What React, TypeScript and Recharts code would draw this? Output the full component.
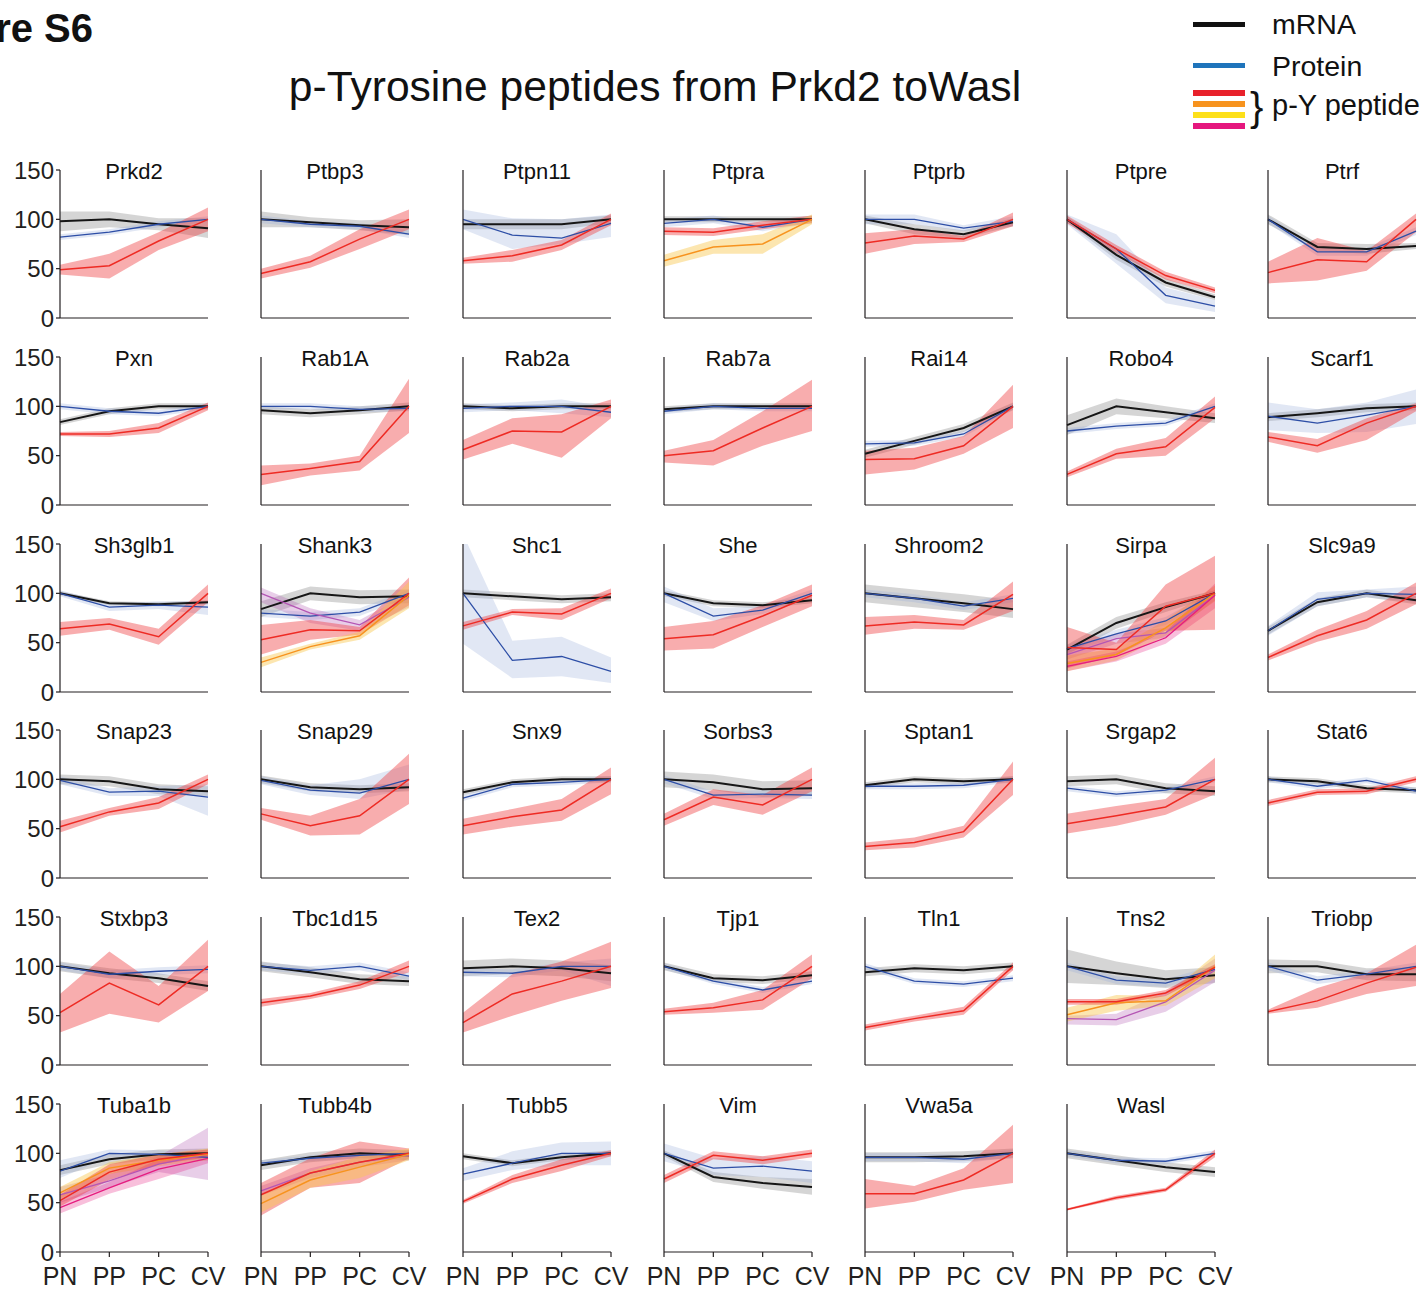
import React from 'react';
import { ComposedChart, Line, Area, XAxis, YAxis } from 'recharts';

// err per point: number = symmetric half width, [down, up] = asymmetric band
type Err = number | (number | [number, number])[];
type Series = [string, number[], Err];

const STAGES = ['PN', 'PP', 'PC', 'CV'];
const Y_TICKS = [0, 50, 100, 150];

// m = mRNA, p = protein, r/o/v/k = p-Y peptides (red, orange, purple, pink)
const prkd2: Series[] = [
  ['m', [98, 100, 95, 91], [10, 8, 6, 10]],
  ['p', [82, 87, 95, 100], 3],
  ['r', [49, 53, 78, 100], [5, [13, 12], 9, 12]],
];
const ptbp3: Series[] = [
  ['m', [100, 97, 94, 92], [8, 5, 5, 8]],
  ['p', [100, 95, 93, 85], [4, 3, 3, 4]],
  ['r', [45, 57, 80, 100], [5, 6, 10, 10]],
];
const ptpn11: Series[] = [
  ['m', [95, 95, 95, 100], [5, 5, 5, 4]],
  ['p', [100, 84, 81, 96], [10, [14, 17], [6, 19], [14, 9]]],
  ['r', [58, 63, 74, 100], [3, 6, 5, 6]],
];
const ptpra: Series[] = [
  ['m', [100, 100, 100, 100], 3],
  ['p', [96, 100, 92, 100], 4],
  ['r', [88, 87, 94, 100], 4],
  ['o', [58, 72, 75, 100], [6, 7, 10, 5]],
];
const ptprb: Series[] = [
  ['m', [100, 90, 85, 97], [4, 5, 4, 4]],
  ['p', [100, 100, 91, 98], [5, 5, 3, 5]],
  ['r', [76, 83, 80, 100], [[11, 10], [8, 7], 3, 7]],
];
const ptpre: Series[] = [
  ['m', [100, 64, 36, 21], [3, 5, 4, 3]],
  ['p', [100, 70, 23, 12], [5, 15, 8, 6]],
  ['r', [100, 70, 43, 28], [4, 4, 4, 3]],
];
const ptrf: Series[] = [
  ['m', [100, 72, 70, 73], [5, 4, 5, 3]],
  ['p', [100, 67, 67, 88], 4],
  ['r', [46, 59, 57, 100], [11, [21, 22], [9, 11], [13, 6]]],
];
const pxn: Series[] = [
  ['m', [84, 95, 100, 100], 3],
  ['p', [100, 95, 93, 100], 3],
  ['r', [72, 72, 78, 100], [2, 3, 5, 4]],
];
const rab1a: Series[] = [
  ['m', [96, 93, 96, 100], 4],
  ['p', [100, 100, 97, 98], 3],
  ['r', [31, 37, 44, 100], [[11, 9], [7, 5], [9, 6], [27, 28]]],
];
const rab2a: Series[] = [
  ['m', [100, 98, 100, 100], 3],
  ['p', [98, 100, 100, 94], [4, 4, 7, 5]],
  ['r', [56, 75, 74, 100], [10, 13, [26, 18], [12, 7]]],
];
const rab7a: Series[] = [
  ['m', [97, 100, 100, 100], 3],
  ['p', [95, 100, 98, 98], 3],
  ['r', [50, 55, 78, 100], [[7, 5], [15, 11], [18, 17], [25, 27]]],
];
const rai14: Series[] = [
  ['m', [52, 65, 78, 100], 4],
  ['p', [62, 63, 72, 100], 3],
  ['r', [46, 47, 60, 100], [[15, 9], 11, [8, 10], 22]],
];
const robo4: Series[] = [
  ['m', [81, 100, 94, 88], [10, 8, 6, 5]],
  ['p', [75, 80, 83, 100], 3],
  ['r', [31, 52, 59, 99], [3, 5, 9, 11]],
];
const scarf1: Series[] = [
  ['m', [89, 93, 98, 100], 4],
  ['p', [90, 83, 91, 100], [14, [10, 14], [17, 13], [18, 17]]],
  ['r', [69, 60, 83, 100], [5, 7, [17, 5], [5, 3]]],
];
const sh3glb1: Series[] = [
  ['m', [100, 90, 89, 91], 2],
  ['p', [100, 86, 88, 86], [3, 4, 4, [8, 6]]],
  ['r', [64, 69, 56, 100], [7, 6, 8, 9]],
];
const shank3: Series[] = [
  ['m', [84, 100, 96, 97], [8, 7, 7, 7]],
  ['p', [80, 77, 81, 100], 4],
  ['v', [100, 80, 68, 96], [[9, 6], [10, 5], [6, 5], [10, 4]]],
  ['r', [53, 63, 62, 100], [15, 10, 4, [12, 16]]],
  ['o', [30, 46, 57, 98], [5, 3, 4, [13, 14]]],
];
const shc1: Series[] = [
  ['m', [100, 97, 94, 96], 4],
  ['p', [100, 32, 36, 21], [[51, 60], [18, 20], 20, [12, 14]]],
  ['r', [67, 81, 79, 100], [4, 3, 6, 5]],
];
const she: Series[] = [
  ['m', [100, 90, 88, 93], 3],
  ['p', [100, 77, 83, 100], [[9, 7], [5, 8], 4, 4]],
  ['r', [54, 58, 77, 98], [12, 14, 11, 11]],
];
const shroom2: Series[] = [
  ['m', [100, 95, 90, 84], 9],
  ['p', [100, 95, 87, 95], 4],
  ['r', [67, 71, 68, 99], [9, 7, 5, [17, 13]]],
];
const sirpa: Series[] = [
  ['m', [43, 70, 86, 100], [5, 6, 5, 3]],
  ['p', [44, 59, 72, 100], 4],
  ['v', [38, 54, 60, 98], 5],
  ['o', [29, 38, 65, 100], [8, 6, 8, 8]],
  ['k', [26, 36, 55, 98], [5, 5, 6, [13, 12]]],
  ['r', [45, 43, 87, 100], [21, [6, 7], [25, 22], [37, 38]]],
];
const slc9a9: Series[] = [
  ['m', [62, 91, 100, 93], 4],
  ['p', [62, 94, 100, 99], [5, 7, 4, 8]],
  ['r', [35, 57, 73, 100], [3, 6, 9, 11]],
];
const snap23: Series[] = [
  ['m', [100, 98, 90, 88], 5],
  ['p', [99, 87, 88, 82], [4, 4, 5, [19, 13]]],
  ['r', [52, 67, 76, 100], [6, 4, 6, 5]],
];
const snap29: Series[] = [
  ['m', [100, 92, 90, 92], 4],
  ['p', [99, 89, 86, 100], [4, 5, [6, 14], [10, 15]]],
  ['r', [65, 53, 63, 100], [6, 10, [19, 17], [25, 26]]],
];
const snx9: Series[] = [
  ['m', [87, 97, 100, 100], 3],
  ['p', [81, 95, 97, 100], 3],
  ['r', [53, 62, 69, 100], [[9, 7], [10, 8], 11, [15, 12]]],
];
const sorbs3: Series[] = [
  ['m', [100, 97, 90, 91], 8],
  ['p', [100, 84, 85, 84], 4],
  ['r', [59, 82, 74, 100], [6, 8, 10, 12]],
];
const sptan1: Series[] = [
  ['m', [94, 100, 98, 100], 3],
  ['p', [93, 93, 94, 100], 3],
  ['r', [32, 36, 47, 100], [4, 5, 6, [16, 18]]],
];
const srgap2: Series[] = [
  ['m', [98, 100, 91, 88], 5],
  ['p', [91, 85, 89, 100], 3],
  ['r', [55, 63, 72, 100], [10, 10, 8, [15, 22]]],
];
const stat6: Series[] = [
  ['m', [100, 98, 91, 89], 3],
  ['p', [100, 93, 99, 88], 3],
  ['r', [76, 87, 88, 100], 3],
];
const stxbp3: Series[] = [
  ['m', [100, 93, 88, 80], 5],
  ['p', [100, 92, 95, 97], 4],
  ['r', [53, 83, 61, 100], [[20, 19], [31, 32], [18, 19], [25, 27]]],
];
const tbc1d15: Series[] = [
  ['m', [100, 94, 87, 85], 5],
  ['p', [100, 96, 100, 90], 4],
  ['r', [63, 70, 81, 100], [4, 3, 4, 6]],
];
const tex2: Series[] = [
  ['m', [98, 100, 98, 93], 8],
  ['p', [94, 93, 100, 100], [4, 4, 4, [20, 8]]],
  ['r', [43, 72, 85, 100], [10, [22, 20], 20, [22, 25]]],
];
const tjp1: Series[] = [
  ['m', [100, 88, 86, 91], 4],
  ['p', [100, 85, 76, 85], 3],
  ['r', [54, 58, 66, 100], [3, 5, 10, 12]],
];
const tln1: Series[] = [
  ['m', [94, 98, 96, 100], 4],
  ['p', [100, 85, 82, 88], 3],
  ['r', [38, 47, 55, 100], [3, 3, 4, 4]],
];
const tns2: Series[] = [
  ['m', [100, 93, 87, 91], [17, 12, 9, 8]],
  ['p', [100, 86, 83, 97], 4],
  ['v', [47, 46, 64, 96], [[6, 3], 6, 10, 12]],
  ['o', [51, 63, 65, 100], [7, 8, 5, 12]],
  ['r', [64, 64, 73, 99], 3],
];
const triobp: Series[] = [
  ['m', [100, 100, 92, 92], [7, 6, 6, 7]],
  ['p', [100, 86, 92, 100], 4],
  ['r', [54, 65, 83, 99], [2, [7, 13], [11, 10], [19, 23]]],
];
const tuba1b: Series[] = [
  ['m', [83, 94, 99, 100], 5],
  ['p', [82, 100, 99, 96], [[7, 11], 4, 4, 4]],
  ['v', [58, 72, 89, 99], [8, 7, 8, [26, 27]]],
  ['o', [60, 85, 93, 99], 6],
  ['k', [45, 65, 84, 95], [6, 6, 10, 5]],
  ['r', [52, 81, 94, 100], [6, 8, 5, 4]],
];
const tubb4b: Series[] = [
  ['m', [88, 96, 100, 98], 5],
  ['p', [90, 95, 98, 100], 3],
  ['v', [62, 80, 91, 98], 5],
  ['r', [58, 80, 91, 100], [[21, 12], 15, 21, 5]],
  ['o', [49, 73, 86, 99], [9, [8, 9], 11, 6]],
];
const tubb5: Series[] = [
  ['m', [97, 90, 96, 100], 3],
  ['p', [79, 90, 100, 100], [[7, 6], [7, 12], [12, 11], 12]],
  ['r', [51, 74, 88, 100], [2, 4, 6, 3]],
];
const vim: Series[] = [
  ['m', [100, 76, 70, 66], [3, 5, 6, 8]],
  ['p', [100, 85, 87, 82], [[8, 10], [7, 10], [11, 10], [12, 10]]],
  ['r', [74, 98, 93, 100], 4],
];
const vwa5a: Series[] = [
  ['m', [96, 96, 97, 100], 5],
  ['p', [96, 96, 94, 100], 4],
  ['r', [59, 59, 73, 100], [15, 8, [10, 12], [30, 29]]],
];
const wasl: Series[] = [
  ['m', [100, 93, 86, 81], 5],
  ['p', [100, 93, 92, 100], 3],
  ['r', [43, 55, 63, 100], [1, 2, 2, 4]],
];

const PANELS: [string, Series[]][] = [
  ['Prkd2', prkd2], ['Ptbp3', ptbp3], ['Ptpn11', ptpn11], ['Ptpra', ptpra], ['Ptprb', ptprb], ['Ptpre', ptpre], ['Ptrf', ptrf],
  ['Pxn', pxn], ['Rab1A', rab1a], ['Rab2a', rab2a], ['Rab7a', rab7a], ['Rai14', rai14], ['Robo4', robo4], ['Scarf1', scarf1],
  ['Sh3glb1', sh3glb1], ['Shank3', shank3], ['Shc1', shc1], ['She', she], ['Shroom2', shroom2], ['Sirpa', sirpa], ['Slc9a9', slc9a9],
  ['Snap23', snap23], ['Snap29', snap29], ['Snx9', snx9], ['Sorbs3', sorbs3], ['Sptan1', sptan1], ['Srgap2', srgap2], ['Stat6', stat6],
  ['Stxbp3', stxbp3], ['Tbc1d15', tbc1d15], ['Tex2', tex2], ['Tjp1', tjp1], ['Tln1', tln1], ['Tns2', tns2], ['Triobp', triobp],
  ['Tuba1b', tuba1b], ['Tubb4b', tubb4b], ['Tubb5', tubb5], ['Vim', vim], ['Vwa5a', vwa5a], ['Wasl', wasl],
];

const STYLE: Record<string, { line: string; band: string; op: number; w: number }> = {
  m: { line: '#161616', band: '#8a8a8a', op: 0.36, w: 2 },
  p: { line: '#2d4ea6', band: '#9cb0da', op: 0.3, w: 1.3 },
  r: { line: '#ee2b24', band: '#ee3b3f', op: 0.42, w: 1.5 },
  o: { line: '#f7931e', band: '#f9c74f', op: 0.45, w: 1.5 },
  v: { line: '#b455b4', band: '#b35cb3', op: 0.3, w: 1.3 },
  k: { line: '#e61c7f', band: '#e6197e', op: 0.28, w: 1.3 },
};

const AXIS = '#231f20';
const FONT = '"Liberation Sans", Arial, Helvetica, sans-serif';
const PLOT = 148;
const COL_X = 60;
const COL_DX = 201.3;
const ROW_Y = 170;
const ROW_DY = 186.8;
const RIGHT = 24;

const Panel = ({ name, series, idx }: { name: string; series: Series[]; idx: number }) => {
  const col = idx % 7;
  const row = Math.floor(idx / 7);
  const showX = row === 5;
  const data = STAGES.map((s, i) => {
    const d: any = { i };
    series.forEach(([k, v, e]) => {
      const ei = typeof e === 'number' ? e : e[i];
      const [dn, up] = typeof ei === 'number' ? [ei, ei] : ei;
      d[k] = v[i];
      d[k + 'b'] = [v[i] - dn, v[i] + up];
    });
    return d;
  });
  const left = Math.round(COL_X + col * COL_DX);
  const top = Math.round(ROW_Y + row * ROW_DY);

  return (
    <div style={{ position: 'absolute', left: left - 60, top: top - 30 }}>
      <ComposedChart width={60 + PLOT + RIGHT} height={30 + PLOT + 42} data={data}
        margin={{ top: 30, right: RIGHT, left: 0, bottom: 0 }}>
        <XAxis dataKey="i" type="number" domain={[0, 3]} ticks={[0, 1, 2, 3]} interval={0}
          tickFormatter={(v: number) => STAGES[v]} height={42} tickSize={5} tickMargin={10}
          tick={showX ? { fontSize: 25, fill: AXIS } : false}
          axisLine={{ stroke: AXIS, strokeWidth: 1.2 }} tickLine={{ stroke: AXIS, strokeWidth: 1.2 }} />
        <YAxis type="number" domain={[0, 150]} ticks={Y_TICKS} width={60} allowDataOverflow
          tickSize={4} tickMargin={2}
          tick={col === 0 ? { fontSize: 24, fill: AXIS } : false}
          axisLine={{ stroke: AXIS, strokeWidth: 1.2 }} tickLine={{ stroke: AXIS, strokeWidth: 1.2 }} />
        {series.map(([k]) => (
          <Area key={k + 'b'} dataKey={k + 'b'} type="linear" stroke="none"
            fill={STYLE[k].band} fillOpacity={STYLE[k].op}
            dot={false} activeDot={false} isAnimationActive={false} />
        ))}
        {series.map(([k]) => (
          <Line key={k} dataKey={k} type="linear" stroke={STYLE[k].line} strokeWidth={STYLE[k].w}
            dot={false} activeDot={false} isAnimationActive={false} />
        ))}
      </ComposedChart>
      <div style={{
        position: 'absolute', left: 60, top: 21, width: PLOT, textAlign: 'center',
        fontSize: 22, lineHeight: '22px', color: '#111',
      }}>{name}</div>
    </div>
  );
};

const PY_COLORS = ['#e8212b', '#f7931e', '#fde01a', '#e5177e'];

const Header = () => (
  <svg width={1425} height={150} style={{ position: 'absolute', left: 0, top: 0 }}>
    <text x={93} y={42} textAnchor="end" fontSize={40} fontWeight="bold" fill="#111">Figure S6</text>
    <text x={655} y={101} textAnchor="middle" fontSize={42.6} fill="#111">p-Tyrosine peptides from Prkd2 toWasl</text>
    <rect x={1193} y={22} width={52} height={5} fill="#111" />
    <text x={1272} y={34} fontSize={28.5} fill="#111">mRNA</text>
    <rect x={1193} y={63} width={52} height={5} fill="#1f74bb" />
    <text x={1272} y={76} fontSize={28.5} fill="#111">Protein</text>
    {PY_COLORS.map((c, i) => (
      <rect key={c} x={1193} y={90 + i * 11} width={52} height={6} fill={c} />
    ))}
    <text x={1250} y={121} fontSize={40} fill="#111">{'}'}</text>
    <text x={1272} y={115} fontSize={29} fill="#111">p-Y peptide</text>
  </svg>
);

export default function App() {
  return (
    <div style={{
      position: 'absolute', left: 0, top: 0, width: 1425, height: 1291,
      background: '#fff', fontFamily: FONT, overflow: 'hidden',
    }}>
      <Header />
      {PANELS.map(([name, s], idx) => (
        <Panel key={name} name={name} series={s} idx={idx} />
      ))}
    </div>
  );
}
